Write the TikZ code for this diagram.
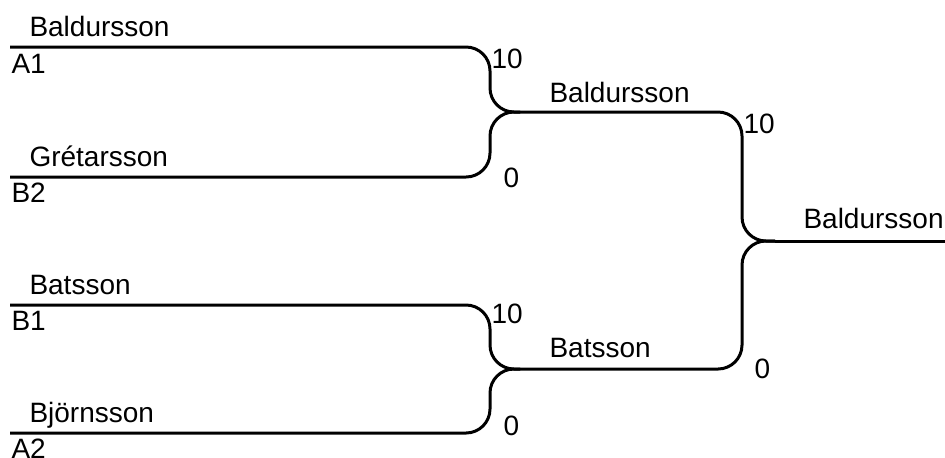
\documentclass[tikz,border=0pt]{standalone}
\usepackage{fontspec}
\setmainfont{Liberation Sans}
\begin{document}
\begin{tikzpicture}[x=0.5pt,y=-0.5pt,line width=1.5pt,
	label/.style={anchor=base west,inner sep=0pt,font=\fontsize{14}{16}\selectfont},
	branch/.style={rounded corners=12pt}]

	\useasboundingbox (0,0) rectangle (945,457);

	% first round
	\coordinate (a1) at (10,47);
	\coordinate (b2) at (10,177);
	\coordinate (b1) at (10,305);
	\coordinate (a2) at (10,433);
	\coordinate (fork1) at (490,112);
	\coordinate (fork2) at (490,369);
	\coordinate (semi1) at (520,112);
	\coordinate (semi2) at (520,369);
	% final
	\coordinate (fork3) at (742,241);
	\coordinate (win) at (775,241);
	\coordinate (winend) at (945,241);

	\draw[branch] (a1) -| (fork1) -- (semi1);
	\draw[branch] (b2) -| (fork1) -- (semi1);
	\draw[branch] (b1) -| (fork2) -- (semi2);
	\draw[branch] (a2) -| (fork2) -- (semi2);
	\draw[branch] (semi1) -| (fork3) -- (win);
	\draw[branch] (semi2) -| (fork3) -- (win);
	\draw (win) -- (winend);

	\node[label] (pa1) at (28,36) {Baldursson};
	\node[label] (sa1) at (10,73) {A1};
	\node[label] (pb2) at (28,166) {Grétarsson};
	\node[label] (sb2) at (10,202) {B2};
	\node[label] (pb1) at (28,294) {Batsson};
	\node[label] (sb1) at (10,330) {B1};
	\node[label] (pa2) at (28,422) {Björnsson};
	\node[label] (sa2) at (10,458) {A2};

	\node[label] (ra1) at (490,68) {10};
	\node[label] (rb2) at (502,187) {0};
	\node[label] (rb1) at (490,323) {10};
	\node[label] (ra2) at (502,435) {0};

	\node[label] (psemi1) at (548,102) {Baldursson};
	\node[label] (psemi2) at (548,357) {Batsson};
	\node[label] (rsemi1) at (742,133) {10};
	\node[label] (rsemi2) at (753,378) {0};

	\node[label] (pwin) at (802,228) {Baldursson};

\end{tikzpicture}
\end{document}
